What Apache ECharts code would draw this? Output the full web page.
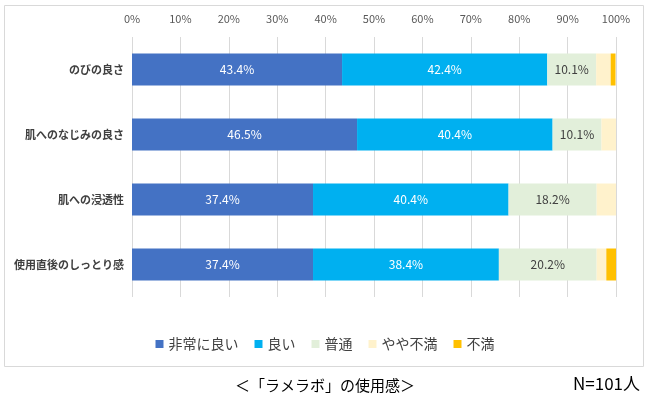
<!DOCTYPE html>
<html><head><meta charset="utf-8">
<script src="https://cdn.jsdelivr.net/npm/echarts@6/dist/echarts.min.js"></script>
<style>html,body{margin:0;padding:0;background:#fff}#c{width:650px;height:411px}</style>
</head><body><div id="c"></div>
<script>
const categories = ['のびの良さ','肌へのなじみの良さ','肌への浸透性','使用直後のしっとり感'];
const seriesNames = ['非常に良い','良い','普通','やや不満','不満'];
const veryGood = [43.4, 46.5, 37.4, 37.4];
const good = [42.4, 40.4, 40.4, 38.4];
const normal = [10.1, 10.1, 18.2, 20.2];
const slightlyBad = [3.0, 3.0, 4.0, 2.0];
const bad = [1.0, 0, 0, 2.0];
const colors = ['#4472C4','#00B0F0','#E2EFDA','#FFF2CC','#FFC000'];
const labelColors = ['#ffffff','#ffffff','#404040',null,null];
const values = [veryGood, good, normal, slightlyBad, bad];
const FONT = '"Noto Sans CJK JP", "Noto Sans", sans-serif';

const chart = echarts.init(document.getElementById('c'));
chart.setOption({
  animation: false,
  textStyle: {fontFamily: FONT},
  grid: {left: 132, right: 34, top: 37, bottom: 114},
  xAxis: {
    type: 'value', min: 0, max: 100, interval: 10, position: 'top',
    axisLabel: {formatter: '{value}%', color: '#595959', fontSize: 11, margin: 13, fontFamily: FONT},
    axisLine: {show: false}, axisTick: {show: false},
    splitLine: {lineStyle: {color: '#D9D9D9', width: 1}}
  },
  yAxis: {
    type: 'category', data: categories, inverse: true,
    axisLine: {show: false}, axisTick: {show: false},
    axisLabel: {color: '#404040', fontSize: 11, fontWeight: 'bold', margin: 8, fontFamily: FONT}
  },
  legend: {
    bottom: 55, left: 'center', itemWidth: 8, itemHeight: 8, itemGap: 16,
    icon: 'rect', textStyle: {fontSize: 14, color: '#404040', fontFamily: FONT},
    data: seriesNames
  },
  series: seriesNames.map((n, i) => ({
    name: n, type: 'bar', stack: 'all', barWidth: 32,
    itemStyle: {color: colors[i]},
    data: values[i],
    label: labelColors[i] ? {
      show: true, position: 'inside', color: labelColors[i], fontSize: 12,
      formatter: p => p.value.toFixed(1) + '%', fontFamily: FONT
    } : {show: false}
  })),
  graphic: [
    {type: 'rect', shape: {x: 4.5, y: 5.5, width: 639, height: 361}, style: {fill: 'none', stroke: '#D9D9D9', lineWidth: 1}, silent: true},
    {type: 'text', left: 'center', top: 378, style: {text: '＜「ラメラボ」の使用感＞', fill: '#000', font: '15px ' + FONT}},
    {type: 'text', right: 10, top: 375, style: {text: 'N=101人', fill: '#000', font: '17px ' + FONT}}
  ]
});
</script></body></html>
